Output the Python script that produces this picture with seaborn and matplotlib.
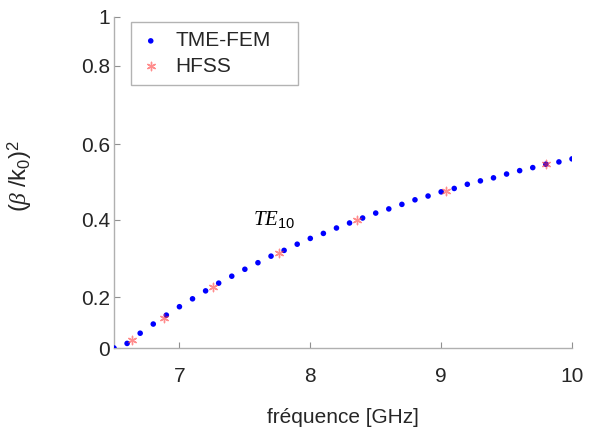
import numpy as np
import pandas as pd
import matplotlib
matplotlib.use("Agg")
import matplotlib.pyplot as plt
import seaborn as sns

# --- data ---
freq_fem = [6.5, 6.6, 6.7, 6.8, 6.9, 7.0, 7.1, 7.2, 7.3, 7.4, 7.5, 7.6,
            7.7, 7.8, 7.9, 8.0, 8.1, 8.2, 8.3, 8.4, 8.5, 8.6, 8.7, 8.8,
            8.9, 9.0, 9.1, 9.2, 9.3, 9.4, 9.5, 9.6, 9.7, 9.8, 9.9, 10.0]
beta_fem = [0.0, 0.018, 0.058, 0.094, 0.129, 0.162, 0.193, 0.216, 0.236,
            0.254, 0.272, 0.289, 0.306, 0.321, 0.337, 0.352, 0.365, 0.379,
            0.392, 0.405, 0.418, 0.429, 0.441, 0.453, 0.463, 0.474, 0.483,
            0.494, 0.503, 0.511, 0.521, 0.530, 0.538, 0.547, 0.553, 0.561]

freq_hfss = [6.64, 6.88, 7.26, 7.76, 8.36, 9.04, 9.8]
beta_hfss = [0.031, 0.116, 0.225, 0.314, 0.400, 0.476, 0.547]

y_ticks = [0, 0.2, 0.4, 0.6, 0.8, 1]
y_tick_labels = ['0', '0.2', '0.4', '0.6', '0.8', '1']
x_ticks = [7, 8, 9, 10]

fem = pd.DataFrame({'f': freq_fem, 'b': beta_fem})
hfss = pd.DataFrame({'f': freq_hfss, 'b': beta_hfss})

sns.set_style('ticks')
plt.rcParams['font.family'] = ['Liberation Sans', 'DejaVu Sans']
plt.rcParams['mathtext.fontset'] = 'custom'
plt.rcParams['mathtext.rm'] = 'Liberation Sans'
plt.rcParams['mathtext.it'] = 'Liberation Serif:italic'

fig = plt.figure(figsize=(5.95, 4.34), dpi=100)
ax = fig.add_axes([114/595, 1-348/434, 458/595, 331/434])

# the y axis of the original is unevenly spaced; reproduce it with a function scale
tick_pos = [0, 0.154, 0.387, 0.616, 0.852, 1]
fwd = lambda v: np.interp(v, y_ticks, tick_pos)
inv = lambda p: np.interp(p, tick_pos, y_ticks)
ax.set_yscale('function', functions=(fwd, inv))

sns.scatterplot(data=fem, x='f', y='b', ax=ax, color='#0000ff', s=16,
                edgecolor='none', label='TME-FEM', zorder=3)
sns.scatterplot(data=hfss, x='f', y='b', ax=ax, color='#ff3030', alpha=0.55,
                marker=(6, 2, 0), s=36, linewidth=1.0, label='HFSS', zorder=4)

ax.set_xlim(6.5, 10)
ax.set_ylim(0, 1)
ax.set_xticks(x_ticks)
ax.set_xticklabels([str(t) for t in x_ticks])
ax.set_yticks(y_ticks)
ax.set_yticklabels(y_tick_labels)

for s in ['top', 'right']:
    ax.spines[s].set_visible(False)
for s in ['left', 'bottom']:
    ax.spines[s].set_color('#b0b0b0')
    ax.spines[s].set_linewidth(1.0)
ax.tick_params(axis='both', direction='in', length=4, color='#909090',
               labelsize=15, labelcolor='#262626')
ax.tick_params(axis='x', pad=14)
ax.tick_params(axis='y', pad=3)

ax.set_xlabel('fréquence [GHz]', fontsize=15, color='#262626')
ax.set_ylabel(r'$(\beta\ /\mathrm{k}_0)^2$', fontsize=17, color='#262626')
ax.xaxis.set_label_coords(0.5, -0.18)
ax.yaxis.set_label_coords(-0.175, 0.52)

ax.text(7.56, 0.387, r'$TE_{10}$', fontsize=15, color='black',
        family='Liberation Serif')

leg = ax.legend(loc='upper left', bbox_to_anchor=(0.037, 0.80, 0.365, 0.185),
                mode='expand', borderaxespad=0, fontsize=15, frameon=True,
                fancybox=False, handlelength=1.0, handletextpad=0.7,
                borderpad=0.45, labelspacing=0.3)
leg.get_frame().set_edgecolor('#a0a0a0')
leg.get_frame().set_linewidth(1.0)
for t in leg.get_texts():
    t.set_color('#262626')

fig.savefig('out.png', dpi=100)
